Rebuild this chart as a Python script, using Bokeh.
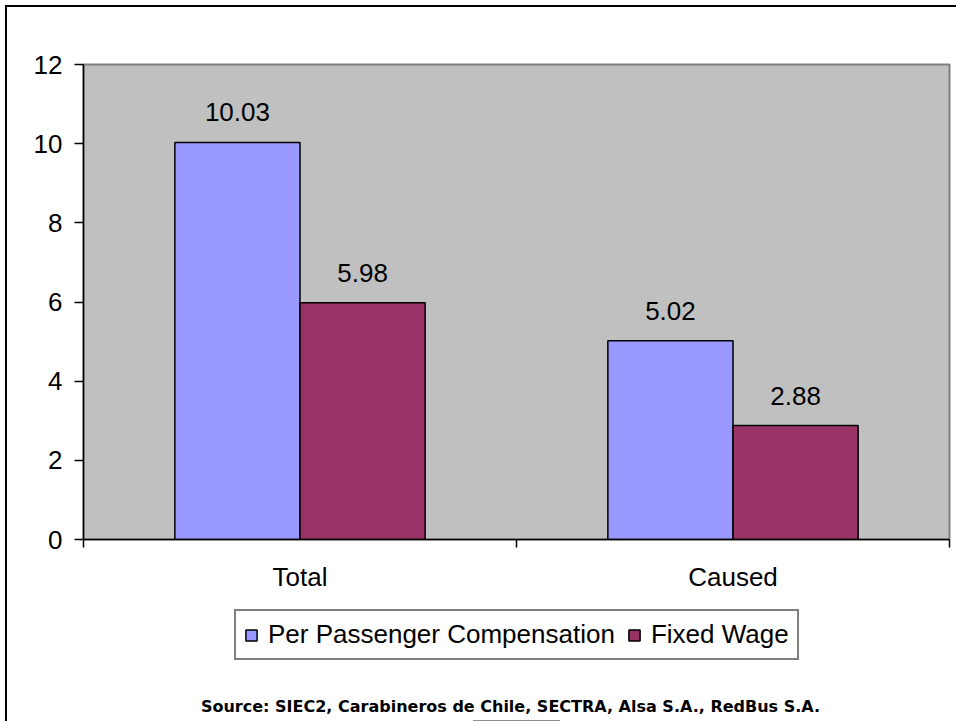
from bokeh.plotting import figure
from bokeh.layouts import column
from bokeh.models import (ColumnDataSource, FixedTicker, Legend, LegendItem, Label,
                          Range1d, LabelSet)
from bokeh.core.properties import value
from bokeh.embed import file_html
from bokeh.resources import INLINE

categories = ["Total", "Caused"]
per_passenger = [10.03, 5.02]
fixed_wage = [5.98, 2.88]
series_names = ["Per Passenger Compensation", "Fixed Wage"]
colors = ["#9999FF", "#993366"]
y_ticks = [0, 2, 4, 6, 8, 10, 12]
source_text = "Source: SIEC2, Carabineros de Chile, SECTRA, Alsa S.A., RedBus S.A."

FONT = "Liberation Sans"
FS = "26px"
centers = [i + 0.5 for i in range(len(categories))]
bw = 0.289

# ---- main chart ----
p = figure(width=949, height=593, output_backend="svg", toolbar_location=None,
           x_range=Range1d(0, len(categories)), y_range=Range1d(0, 12),
           min_border_left=76, min_border_right=7, min_border_top=57, min_border_bottom=61)
p.background_fill_color = "#C0C0C0"
p.border_fill_color = "white"
p.outline_line_color = "#808080"
p.outline_line_width = 2
p.grid.visible = False

src1 = ColumnDataSource(dict(x=[c - bw / 2 for c in centers], top=per_passenger,
                             lab=[f"{v:.2f}" for v in per_passenger]))
src2 = ColumnDataSource(dict(x=[c + bw / 2 for c in centers], top=fixed_wage,
                             lab=[f"{v:.2f}" for v in fixed_wage]))
p.vbar(x="x", top="top", width=bw, source=src1, fill_color=colors[0],
       line_color="black", line_width=1.5)
p.vbar(x="x", top="top", width=bw, source=src2, fill_color=colors[1],
       line_color="black", line_width=1.5)

for s in (src1, src2):
    p.add_layout(LabelSet(x="x", y="top", text="lab", source=s, text_align="center",
                          text_baseline="bottom", y_offset=21,
                          text_font=value(FONT), text_font_size=FS, text_color="black"))

p.xaxis.ticker = FixedTicker(ticks=centers, minor_ticks=list(range(len(categories) + 1)))
p.xaxis.major_label_overrides = {c: lab for c, lab in zip(centers, categories)}
p.xaxis.major_tick_out = 0
p.xaxis.major_tick_in = 0
p.xaxis.minor_tick_out = 8
p.xaxis.minor_tick_in = 0
p.xaxis.minor_tick_line_color = "black"
p.xaxis.minor_tick_line_width = 1.5
p.xaxis.axis_line_color = "black"
p.xaxis.axis_line_width = 1.5
p.xaxis.major_label_text_font = FONT
p.xaxis.major_label_text_font_size = FS
p.xaxis.major_label_text_color = "black"
p.xaxis.major_label_standoff = 14

p.yaxis.ticker = FixedTicker(ticks=y_ticks)
p.yaxis.major_tick_out = 9
p.yaxis.major_tick_in = 0
p.yaxis.major_tick_line_width = 1.5
p.yaxis.minor_tick_line_color = None
p.yaxis.axis_line_color = "black"
p.yaxis.axis_line_width = 1.5
p.yaxis.major_label_text_font = FONT
p.yaxis.major_label_text_font_size = FS
p.yaxis.major_label_text_color = "black"
p.yaxis.major_label_standoff = 12

# ---- legend + source strip (frame aligned with the chart's frame) ----
q = figure(width=949, height=121, output_backend="svg", toolbar_location=None,
           x_range=Range1d(0, 1), y_range=Range1d(0, 1),
           x_axis_location=None, y_axis_location=None,
           min_border_left=76, min_border_right=7, min_border_top=0, min_border_bottom=0)
q.grid.visible = False
q.outline_line_color = None
q.background_fill_color = "white"
q.border_fill_color = "white"
# legend-only renderers: one item each, placed below the visible range
e1 = q.vbar(x=[0.5], bottom=[-3], top=[-2], width=0.1, fill_color=colors[0],
            line_color="black", line_width=1.5)
e2 = q.vbar(x=[0.5], bottom=[-3], top=[-2], width=0.1, fill_color=colors[1],
            line_color="black", line_width=1.5)

legend = Legend(items=[LegendItem(label=series_names[0], renderers=[e1]),
                       LegendItem(label=series_names[1], renderers=[e2])],
                orientation="horizontal", location=(151, 61),
                border_line_color="black", border_line_width=2,
                label_text_font=FONT, label_text_font_size=FS, label_text_color="black",
                glyph_width=14, glyph_height=14, spacing=12, padding=8,
                label_standoff=10, margin=0, background_fill_color="white")
q.add_layout(legend, "center")

q.add_layout(Label(x=427, y=15, x_units="screen", y_units="screen", text=source_text,
                   text_align="center", text_baseline="middle", text_font="DejaVu Sans",
                   text_font_style="bold", text_font_size="16px", text_color="black"))

layout = column(p, q, spacing=0)
layout.styles = {"border-left": "2px solid black", "border-top": "2px solid black",
                 "margin-left": "5px", "margin-top": "5px"}

open("out.html", "w").write(file_html(layout, INLINE))
